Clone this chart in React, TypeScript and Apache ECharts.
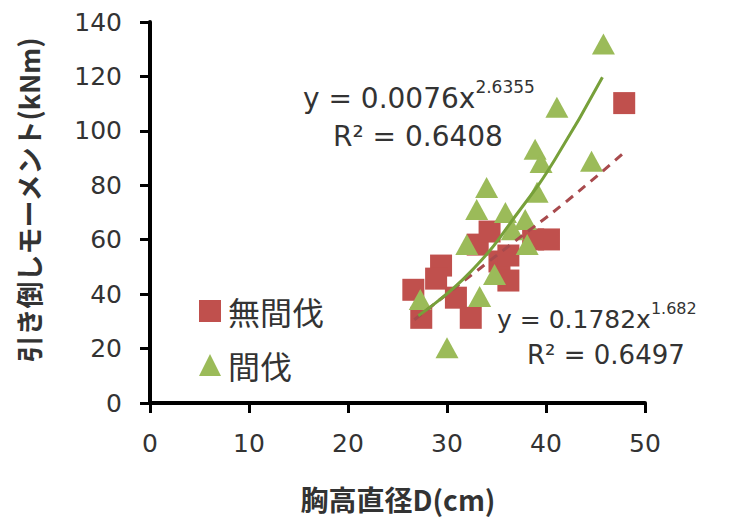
import React, { useEffect, useRef } from "react";
import * as echarts from "echarts";

// 無間伐 (red squares): DBH (cm) and moment (kNm)
const untreatedD = [26.6, 29.4, 28.9, 27.4, 30.9, 32.4, 33.1, 34.3, 35.3, 36.2, 36.2, 38.7, 40.3, 47.9];
const untreatedM = [41.6, 50.5, 45.7, 31.3, 38.7, 31.3, 58.2, 63.0, 52.0, 45.0, 54.2, 60.1, 60.1, 110.2];

// 間伐 (green triangles)
const thinnedD = [45.8, 41.1, 38.9, 39.5, 44.6, 39.1, 34.0, 33.0, 35.9, 37.9, 32.0, 38.1, 34.8, 33.3, 27.3, 30.0, 36.6];
const thinnedM = [131.9, 108.7, 93.2, 88.4, 88.8, 77.4, 79.2, 71.1, 70.0, 67.4, 58.2, 58.2, 47.2, 39.1, 38.0, 20.3, 63.7];

// trend lines
const untreatedFitD = [26.7, 36.7, 41.7, 47.7];
const untreatedFitM = [30.6, 59.0, 73.0, 91.4];
const thinnedFitD = [27.1, 32.3, 37.4, 40.9, 45.7];
const thinnedFitM = [32.1, 47.9, 71.1, 89.5, 119.7];

const seriesNames = ["無間伐", "間伐"];
const xTitle = "胸高直径D(cm)";
const yTitle = "引き倒しモーメント(kNm)";

const FONT = "DejaVu Sans";
const CJK = "Noto Sans CJK JP";

const zip = (a: number[], b: number[]) => a.map((v, i) => [v, b[i]]);

export default function App() {
  const ref = useRef<HTMLDivElement>(null);
  useEffect(() => {
    document.body.style.margin = "0";
    if (!ref.current) return;
    const chart = echarts.init(ref.current, undefined, { renderer: "svg" });
    chart.setOption({
      animation: false,
      backgroundColor: "#ffffff",
      grid: { left: 150, top: 22, width: 495, height: 381 },
      xAxis: {
        type: "value",
        min: 0,
        max: 50,
        interval: 10,
        axisLine: { show: true, onZero: false, lineStyle: { color: "#000", width: 4 } },
        axisTick: { show: true, length: 10, lineStyle: { color: "#000", width: 3 } },
        splitLine: { show: false },
        axisLabel: { fontSize: 25, color: "#333", margin: 28, fontFamily: FONT },
      },
      yAxis: {
        type: "value",
        min: 0,
        max: 140,
        interval: 20,
        axisLine: { show: true, onZero: false, lineStyle: { color: "#000", width: 4 } },
        axisTick: { show: true, length: 10, lineStyle: { color: "#000", width: 3 } },
        splitLine: { show: false },
        axisLabel: { fontSize: 25, color: "#333", margin: 28, fontFamily: FONT },
      },
      legend: {
        orient: "vertical",
        left: 199,
        top: 291,
        padding: 0,
        itemWidth: 22,
        itemHeight: 22,
        itemGap: 14,
        textStyle: { fontSize: 32, fontFamily: CJK, color: "#333", lineHeight: 40, padding: [0, 0, 0, 2] },
        data: [
          { name: seriesNames[0], icon: "rect" },
          { name: seriesNames[1], icon: "triangle" },
        ],
      },
      series: [
        {
          name: seriesNames[0],
          type: "scatter",
          symbol: "rect",
          symbolSize: 22,
          itemStyle: { color: "#C0504D", opacity: 1 },
          data: zip(untreatedD, untreatedM),
          z: 2,
        },
        {
          name: seriesNames[1],
          type: "scatter",
          symbol: "triangle",
          symbolSize: [23, 21],
          itemStyle: { color: "#9BBB59", opacity: 1 },
          data: zip(thinnedD, thinnedM),
          z: 3,
        },
        {
          name: "fit1",
          type: "line",
          smooth: true,
          showSymbol: false,
          symbol: "none",
          lineStyle: { color: "#A84A4D", width: 3, type: [9, 7] },
          data: zip(untreatedFitD, untreatedFitM),
          z: 4,
        },
        {
          name: "fit2",
          type: "line",
          smooth: true,
          showSymbol: false,
          symbol: "none",
          lineStyle: { color: "#77A03A", width: 3 },
          data: zip(thinnedFitD, thinnedFitM),
          z: 5,
        },
      ],
      graphic: [
        {
          type: "text",
          x: 303,
          y: 95,
          style: {
            text: "{m|y = 0.0076x}{s|2.6355}",
            align: "left",
            verticalAlign: "middle",
            rich: {
              m: { fontSize: 28, fontFamily: FONT, fill: "#333", lineHeight: 34, verticalAlign: "bottom" },
              s: { fontSize: 17, fontFamily: FONT, fill: "#333", lineHeight: 17, verticalAlign: "top" },
            },
          },
        },
        {
          type: "text",
          x: 333,
          y: 136,
          style: {
            text: "R² = 0.6408",
            fontSize: 28,
            fontFamily: FONT,
            fill: "#333",
            align: "left",
            verticalAlign: "middle",
          },
        },
        {
          type: "text",
          x: 497,
          y: 316,
          style: {
            text: "{m|y = 0.1782x}{s|1.682}",
            align: "left",
            verticalAlign: "middle",
            rich: {
              m: { fontSize: 25, fontFamily: FONT, fill: "#333", lineHeight: 31, verticalAlign: "bottom" },
              s: { fontSize: 16, fontFamily: FONT, fill: "#333", lineHeight: 16, verticalAlign: "top" },
            },
          },
        },
        {
          type: "text",
          x: 527,
          y: 355,
          style: {
            text: "R² = 0.6497",
            fontSize: 26,
            fontFamily: FONT,
            fill: "#333",
            align: "left",
            verticalAlign: "middle",
          },
        },
        {
          type: "text",
          x: 28,
          y: 200,
          rotation: Math.PI / 2,
          style: {
            text: yTitle,
            fontSize: 27,
            fontWeight: "bold",
            fontFamily: CJK,
            fill: "#333",
            align: "center",
            verticalAlign: "middle",
          },
        },
        {
          type: "text",
          x: 398,
          y: 499,
          style: {
            text: xTitle,
            fontSize: 28,
            fontWeight: "bold",
            fontFamily: CJK,
            fill: "#333",
            align: "center",
            verticalAlign: "middle",
          },
        },
      ],
    });
    return () => chart.dispose();
  }, []);
  return <div ref={ref} style={{ width: 748, height: 527 }} />;
}
